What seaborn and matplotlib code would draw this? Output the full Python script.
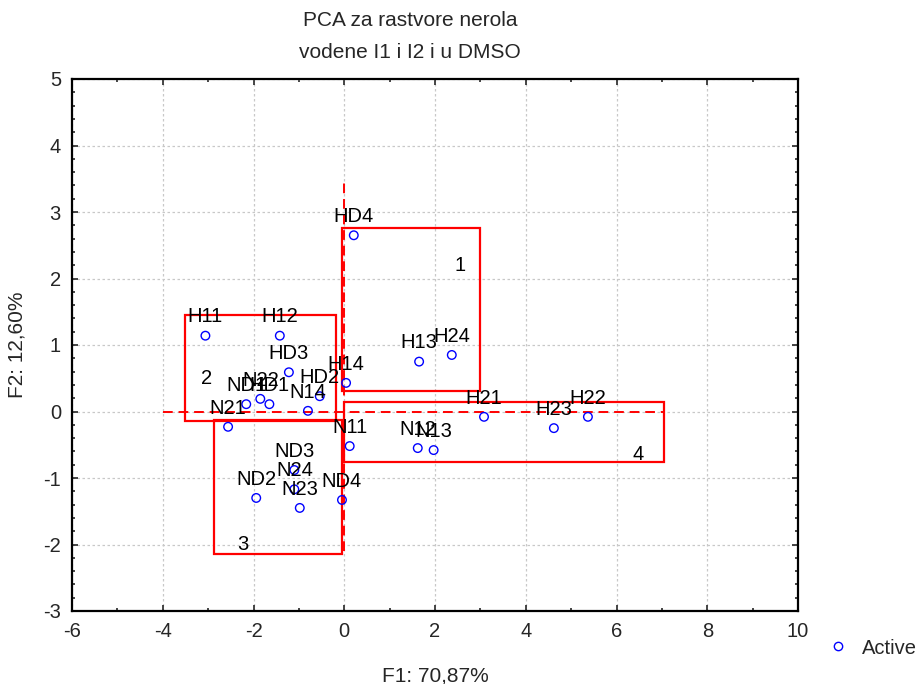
import matplotlib
matplotlib.use("Agg")
import matplotlib.pyplot as plt
import seaborn as sns
import pandas as pd
from matplotlib.patches import Rectangle
from matplotlib.lines import Line2D
from matplotlib.ticker import MultipleLocator

# ---- data ----
labels = ["H11", "H12", "HD3", "HD2", "H14", "N14", "ND1", "N22", "HD1", "N21",
          "HD4", "H13", "H24", "H21", "H23", "H22", "N11", "N12", "N13",
          "ND3", "N24", "ND2", "N23", "ND4"]
f1 = [-3.06, -1.42, -1.22, -0.54, 0.04, -0.80, -2.16, -1.85, -1.65, -2.56,
      0.21, 1.65, 2.37, 3.08, 4.62, 5.37, 0.12, 1.62, 1.97,
      -1.10, -1.10, -1.94, -0.98, -0.05]
f2 = [1.14, 1.14, 0.59, 0.23, 0.43, 0.01, 0.11, 0.19, 0.11, -0.23,
      2.65, 0.75, 0.85, -0.08, -0.25, -0.08, -0.52, -0.55, -0.58,
      -0.88, -1.17, -1.30, -1.45, -1.33]

group_names = ["1", "2", "3", "4"]
box_x0 = [-0.06, -3.52, -2.88, -0.01]
box_x1 = [2.99, -0.19, -0.04, 7.05]
box_y0 = [0.31, -0.14, -2.14, -0.76]
box_y1 = [2.76, 1.45, -0.13, 0.14]
group_label_x = [2.55, -3.04, -2.23, 6.47]
group_label_y = [2.20, 0.50, -2.00, -0.65]

hline_x = [-4.0, 7.05]
vline_y = [-2.1, 3.5]

title_lines = ["PCA za rastvore nerola", "vodene I1 i I2 i u DMSO"]
xlabel = "F1: 70,87%"
ylabel = "F2: 12,60%"
legend_label = "Active"

df = pd.DataFrame({"F1": f1, "F2": f2, "label": labels})

# ---- style ----
sns.set_style("white")
plt.rcParams["font.family"] = ["Liberation Sans", "DejaVu Sans"]
plt.rcParams["axes.unicode_minus"] = False

fig = plt.figure(figsize=(9.21, 6.84), dpi=100)
ax = fig.add_axes([72 / 921, 1 - 611 / 684, 726 / 921, 532 / 684])

sns.scatterplot(data=df, x="F1", y="F2", ax=ax, marker="o", s=38,
                color="blue", linewidth=1.0, legend=False, zorder=5)
coll = ax.collections[0]
coll.set_facecolor("none")
coll.set_edgecolor("blue")

for lab, x, y in zip(labels, f1, f2):
    ax.annotate(lab, (x, y), xytext=(0, 9.5), textcoords="offset points",
                ha="center", va="baseline", fontsize=14.5, color="black", zorder=6)

for x0, x1, y0, y1 in zip(box_x0, box_x1, box_y0, box_y1):
    ax.add_patch(Rectangle((x0, y0), x1 - x0, y1 - y0, fill=False,
                           edgecolor="red", linewidth=1.6, zorder=4))

for name, x, y in zip(group_names, group_label_x, group_label_y):
    ax.text(x, y, name, ha="center", va="center", fontsize=14.5, color="black", zorder=6)

ax.plot(hline_x, [0, 0], color="red", linestyle=(0, (5, 3)), linewidth=1.4, zorder=3)
ax.plot([0, 0], vline_y, color="red", linestyle=(0, (5, 3)), linewidth=1.4, zorder=3)

ax.set_xlim(-6, 10)
ax.set_ylim(-3, 5)
ax.xaxis.set_major_locator(MultipleLocator(2))
ax.xaxis.set_minor_locator(MultipleLocator(1))
ax.yaxis.set_major_locator(MultipleLocator(1))
ax.yaxis.set_minor_locator(MultipleLocator(0.2))
ax.tick_params(which="both", direction="in", bottom=True, left=True, top=True,
               right=True, labelsize=14.5, width=1.2, pad=8)
ax.tick_params(which="major", length=4)
ax.tick_params(which="minor", length=2.5)
ax.grid(True, which="major", color="#c8c8c8", linestyle=(0, (2, 2)), linewidth=0.9)
ax.set_axisbelow(True)
for sp in ax.spines.values():
    sp.set_visible(True)
    sp.set_color("black")
    sp.set_linewidth(1.6)

ax.set_xlabel(xlabel, fontsize=15, labelpad=18)
ax.set_ylabel(ylabel, fontsize=15, labelpad=12)

fig.text(410 / 921, 1 - 20 / 684, title_lines[0], ha="center", va="center", fontsize=15)
fig.text(410 / 921, 1 - 52 / 684, title_lines[1], ha="center", va="center", fontsize=15)

handle = Line2D([], [], marker="o", linestyle="none", markerfacecolor="none",
                markeredgecolor="blue", markersize=6, markeredgewidth=1.0)
fig.legend([handle], [legend_label], loc="center left",
           bbox_to_anchor=(826 / 921, 1 - 648 / 684), frameon=False,
           fontsize=14.5, handletextpad=0.6, handlelength=1.2, borderaxespad=0,
           borderpad=0)

fig.savefig("out.png", dpi=100)
